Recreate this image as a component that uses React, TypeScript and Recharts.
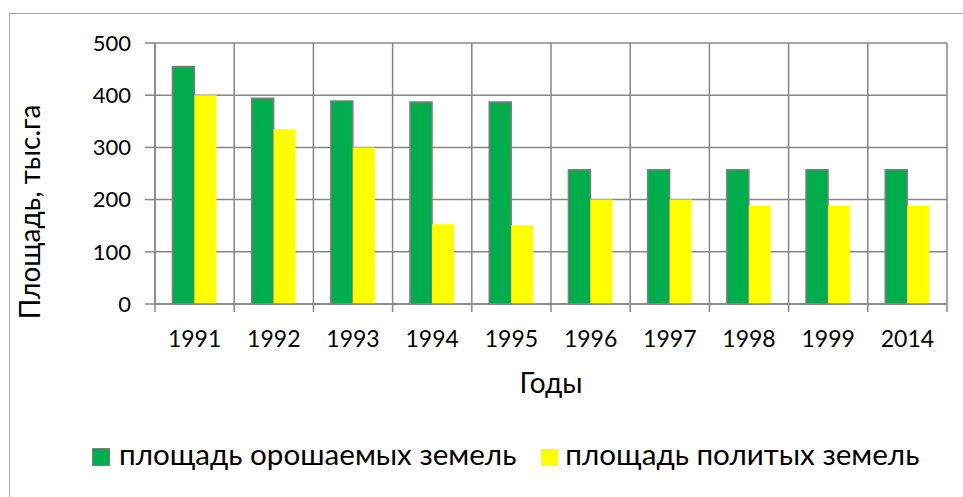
import React from 'react';
import { BarChart, Bar, XAxis, YAxis, CartesianGrid, Legend } from 'recharts';

const years = ['1991', '1992', '1993', '1994', '1995', '1996', '1997', '1998', '1999', '2014'];
const irrigated = [455, 394, 389, 387, 387, 257, 257, 257, 257, 257];
const watered = [400, 335, 300, 153, 151, 200, 200, 188, 188, 188];
const yTicks = [0, 100, 200, 300, 400, 500];
const seriesNames = ['площадь орошаемых земель', 'площадь политых земель'];
const yTitle = 'Площадь, тыс.га';
const xTitle = 'Годы';

const data = years.map((y, i) => ({ year: y, irrigated: irrigated[i], watered: watered[i] }));

const W = 963;
const H = 497;
const M = { top: 43, right: 16, left: 0, bottom: 133 };
const Y_W = 155;
const X_H = 60;
const PLOT_W = W - M.left - M.right - Y_W;
const BW = PLOT_W / years.length;
const FONT = 'Lato, "Noto Sans", sans-serif';
const GRID = '#878787';
const GREEN = '#00AD4C';
const YELLOW = '#FFFF00';

const XTick = (props: any) => {
  const { x, y, payload, index } = props;
  const last = index === years.length - 1;
  return (
    <g>
      <line x1={x - BW / 2} y1={y} x2={x - BW / 2} y2={y + 8} stroke={GRID} strokeWidth={1.5} />
      {last && <line x1={x + BW / 2} y1={y} x2={x + BW / 2} y2={y + 8} stroke={GRID} strokeWidth={1.5} />}
      <text x={x} y={y + 43} textAnchor="middle" fontFamily={FONT} fontSize={23} fill="#000">
        {payload.value}
      </text>
    </g>
  );
};

const LegendContent = () => (
  <div style={{ display: 'flex', alignItems: 'center', fontFamily: FONT, fontSize: 29.6, lineHeight: '36px', color: '#000', whiteSpace: 'nowrap' }}>
    <span style={{ width: 18, height: 18, background: GREEN, border: '1.5px solid #7f7f7f', boxSizing: 'border-box', display: 'inline-block', marginRight: 9, position: 'relative', top: 3 }} />
    <span style={{ marginRight: 25 }}>{seriesNames[0]}</span>
    <span style={{ width: 17, height: 17, background: YELLOW, display: 'inline-block', marginRight: 7, position: 'relative', top: 3 }} />
    <span>{seriesNames[1]}</span>
  </div>
);

export default function App() {
  return (
    <div style={{ position: 'absolute', left: 0, top: 0, width: W, height: H, overflow: 'hidden', background: '#fff' }}>
      <div style={{ position: 'absolute', left: 9, top: 13, width: W + 20, height: H + 20, border: '1px solid #a6a6a6' }} />
      <div style={{ position: 'absolute', left: 0, top: 0 }}>
        <BarChart width={W} height={H} data={data} margin={M} barCategoryGap="22%" barGap={0}>
          <CartesianGrid
            stroke={GRID}
            strokeWidth={1.5}
            verticalCoordinatesGenerator={({ offset }: any) =>
              Array.from({ length: years.length + 1 }, (_, i) => offset.left + (i * offset.width) / years.length)
            }
          />
          <XAxis
            dataKey="year"
            height={X_H}
            tickSize={0}
            tickMargin={0}
            tickLine={false}
            axisLine={{ stroke: GRID, strokeWidth: 1.5 }}
            tick={<XTick />}
            interval={0}
            label={{
              content: () => (
                <text x={(M.left + Y_W) + PLOT_W / 2} y={393} textAnchor="middle" fontFamily={FONT} fontSize={28} fill="#000">
                  {xTitle}
                </text>
              ),
            }}
          />
          <YAxis
            width={Y_W}
            domain={[0, 500]}
            ticks={yTicks}
            tickSize={10}
            tickMargin={14}
            tickLine={{ stroke: GRID, strokeWidth: 1.5 }}
            axisLine={{ stroke: GRID, strokeWidth: 1.5 }}
            tick={{ fontFamily: FONT, fontSize: 22, fill: '#000' }}
            label={{
              content: () => (
                <text x={0} y={0} transform="translate(40 212) rotate(-90)" textAnchor="middle" fontFamily={FONT} fontSize={28} fill="#000">
                  {yTitle}
                </text>
              ),
            }}
          />
          <Bar dataKey="irrigated" name={seriesNames[0]} fill={GREEN} stroke="#7f7f7f" strokeWidth={1.5} isAnimationActive={false} />
          <Bar dataKey="watered" name={seriesNames[1]} fill={YELLOW} isAnimationActive={false} />
          <Legend
            layout="vertical"
            align="center"
            verticalAlign="middle"
            wrapperStyle={{ left: 92, top: 436, width: 'auto' }}
            content={<LegendContent />}
          />
        </BarChart>
      </div>
    </div>
  );
}
